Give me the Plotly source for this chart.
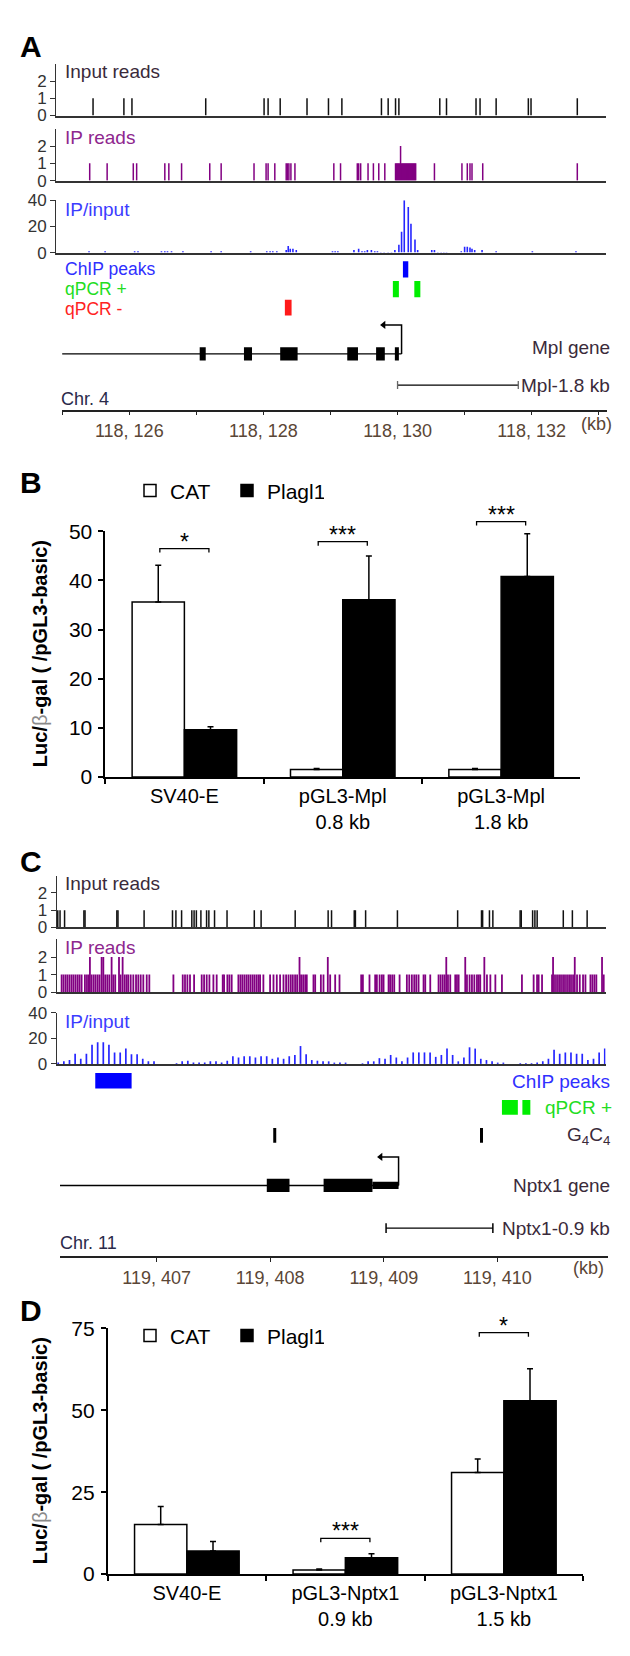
import plotly.graph_objects as go
from collections import Counter

W, H = 630, 1656
FONT = "Arial, Liberation Sans, sans-serif"

# ======================= DATA =======================
# ---- Panel A : Mpl locus, chr 4 (kb) ----
a_input_reads_kb = [118125.46, 118125.92, 118126.04, 118127.14, 118128.01, 118128.07,
                    118128.25, 118128.65, 118128.97, 118129.17, 118129.76, 118129.86,
                    118129.97, 118130.02, 118130.63, 118130.73, 118131.17, 118131.23,
                    118131.47, 118131.95, 118131.99, 118132.68]
# one entry per read (a repeated position = stacked reads)
a_ip_reads_kb = [118125.41, 118125.67, 118126.06, 118126.11, 118126.53, 118126.59, 118126.78,
                 118127.20, 118127.37, 118127.86, 118128.04, 118128.07, 118128.17, 118128.34,
                 118128.36, 118128.38, 118128.41, 118128.47, 118129.05, 118129.15, 118129.40,
                 118129.42, 118129.45, 118129.56, 118129.64, 118129.72, 118129.81,
                 118129.970, 118129.985, 118130.000, 118130.015, 118130.030, 118130.045,
                 118130.045, 118130.060, 118130.075, 118130.090, 118130.105, 118130.120,
                 118130.135, 118130.150, 118130.165, 118130.180, 118130.195, 118130.210,
                 118130.225, 118130.240, 118130.255, 118130.270,
                 118130.55, 118130.96, 118131.04, 118131.08, 118131.11, 118131.27, 118132.68]
a_ratio_kb = [118125.40, 118125.64, 118126.08, 118126.13, 118126.48, 118126.53, 118126.57,
              118126.63, 118126.80, 118127.22, 118127.37, 118127.81, 118128.05, 118128.10,
              118128.14, 118128.20, 118128.34, 118128.37, 118128.40, 118128.44, 118128.49,
              118129.03, 118129.07, 118129.11, 118129.35, 118129.42, 118129.47, 118129.51,
              118129.55, 118129.61, 118129.66, 118129.70, 118129.75, 118129.80, 118129.86,
              118129.91, 118129.96, 118130.02, 118130.06, 118130.10, 118130.16, 118130.20,
              118130.26, 118130.30, 118130.51, 118130.55, 118130.60, 118130.65, 118130.69,
              118130.73, 118130.95, 118131.00, 118131.04, 118131.08, 118131.11, 118131.15,
              118131.26, 118131.47, 118132.01, 118132.66]
a_ratio_val = [1, 1, 1, 1, 1, 1, 1,
               1, 1, 1, 1, 1, 1, 1,
               1, 1, 2, 5, 3, 3, 2,
               1, 1, 1, 2, 3, 1, 1,
               2, 2, 1, 1, 0.5, 0.5, 0.5,
               0.5, 2, 6, 16, 40, 35, 22,
               10, 2, 2, 2, 0.5, 0.5, 0.5,
               0.5, 1, 4.5, 4.5, 4, 3, 2,
               2, 1, 1, 1]
a_chip_peaks_kb = [(118130.08, 118130.16)]
a_qpcr_pos_kb = [(118129.93, 118130.02), (118130.25, 118130.34)]
a_qpcr_neg_kb = [(118128.32, 118128.42)]
a_gene_span_kb = (118124.97, 118130.06)
a_tss_kb = 118130.06
a_exons_kb = [(118127.05, 118127.14), (118127.71, 118127.83), (118128.25, 118128.51),
              (118129.25, 118129.41), (118129.68, 118129.81), (118129.96, 118130.02)]
a_promoter_kb = (118130.00, 118131.80)
a_tick_kb = [118126, 118128, 118130, 118132]
a_tick_text = ["118, 126", "118, 128", "118, 130", "118, 132"]
a_minor_tick_kb = [118125, 118127, 118129, 118131, 118133]

# ---- Panel B : luciferase, Mpl promoter ----
b_categories = ["SV40-E", "pGL3-Mpl<br>0.8 kb", "pGL3-Mpl<br>1.8 kb"]
b_cat = [35.6, 1.5, 1.5]
b_cat_err = [7.5, 0.2, 0.2]
b_plagl1 = [9.6, 36.1, 40.8]
b_plagl1_err = [0.6, 8.9, 8.7]
b_sig = ["*", "***", "***"]

# ---- Panel C : Nptx1 locus, chr 11 (kb) ----
c_input_reads_kb = [119406.13, 119406.15, 119406.19, 119406.36, 119406.37, 119406.65, 119406.66,
                    119406.89, 119407.14, 119407.17, 119407.22, 119407.31, 119407.33, 119407.35,
                    119407.39, 119407.44, 119407.46, 119407.51, 119407.62, 119407.86, 119407.92,
                    119408.22, 119408.51, 119408.54, 119408.74, 119408.75, 119408.84, 119409.12,
                    119409.65, 119409.86, 119409.87, 119409.93, 119409.96, 119410.20, 119410.21,
                    119410.31, 119410.33, 119410.35, 119410.58, 119410.66, 119410.79]
c_ip_reads_kb = [
    119406.164, 119406.181, 119406.199, 119406.216, 119406.234, 119406.252, 119406.269,
    119406.287, 119406.305, 119406.322, 119406.340, 119406.369, 119406.387, 119406.404,
    119406.413, 119406.413, 119406.428, 119406.446, 119406.463, 119406.481, 119406.498,
    119406.516, 119406.516, 119406.531, 119406.531, 119406.548, 119406.566, 119406.584,
    119406.604, 119406.604, 119406.619, 119406.636, 119406.669, 119406.669, 119406.683,
    119406.701, 119406.701, 119406.719, 119406.736, 119406.751, 119406.772, 119406.795,
    119406.819, 119406.839, 119406.860, 119406.883, 119406.913, 119406.936,
    119407.148, 119407.230, 119407.250, 119407.271, 119407.294, 119407.330, 119407.397,
    119407.418, 119407.441, 119407.465, 119407.500, 119407.529, 119407.582, 119407.594,
    119407.623, 119407.641, 119407.661, 119407.720, 119407.738, 119407.755, 119407.773,
    119407.791, 119407.808, 119407.826, 119407.844, 119407.861, 119407.879, 119407.896,
    119407.911, 119407.940, 119407.999,
    119408.029, 119408.058, 119408.087, 119408.117, 119408.140, 119408.161, 119408.181,
    119408.199, 119408.219, 119408.237, 119408.258, 119408.258, 119408.272, 119408.290,
    119408.308, 119408.322, 119408.381, 119408.396, 119408.446, 119408.469, 119408.507,
    119408.507, 119408.528, 119408.572, 119408.610, 119408.801, 119408.816, 119408.874,
    119408.924, 119408.939, 119408.963, 119408.983, 119408.998,
    119409.042, 119409.056, 119409.074, 119409.092, 119409.139, 119409.203, 119409.224,
    119409.247, 119409.268, 119409.286, 119409.306, 119409.350, 119409.365, 119409.409,
    119409.482, 119409.500, 119409.518, 119409.535, 119409.550, 119409.550, 119409.565,
    119409.585, 119409.629, 119409.644, 119409.659, 119409.717, 119409.717, 119409.732,
    119409.755, 119409.776, 119409.797, 119409.820, 119409.835, 119409.849, 119409.885,
    119409.885, 119409.908, 119409.938, 119409.982,
    119410.040, 119410.216, 119410.319, 119410.349, 119410.363, 119410.393, 119410.481,
    119410.490, 119410.490, 119410.507, 119410.525, 119410.543, 119410.560, 119410.578,
    119410.595, 119410.613, 119410.631, 119410.648, 119410.666, 119410.681, 119410.681,
    119410.701, 119410.725, 119410.754, 119410.775, 119410.819, 119410.836, 119410.854,
    119410.871, 119410.921, 119410.921, 119410.936]
# IP/input in consecutive ~50 bp bins
c_ratio_start_kb = 119406.134
c_ratio_bin_kb = 0.0496
c_ratio_val = [1, 2, 3, 8, 4, 8, 15, 17, 17, 15, 9, 9, 12, 7.5, 7.5, 4, 2, 2, 0, 0,
               0, 0.5, 2, 2.5, 1, 1, 1, 2, 2, 1, 2.5, 6, 5, 6, 6, 5, 6, 6, 4, 5,
               4, 6, 7, 14, 7.5, 3, 2.5, 2, 2, 1, 1, 1, 0, 0, 0.5, 2, 2, 4.5, 4, 7,
               5, 2, 5, 9, 9, 9, 9, 5.5, 7, 12, 7, 2, 5, 13, 12, 4, 3, 2, 1, 1,
               0, 0, 0.5, 0.5, 0.5, 1, 2, 4, 11, 8, 9, 9, 8, 8, 3, 4, 9, 12]
c_chip_peaks_kb = [(119406.46, 119406.78)]
c_qpcr_pos_kb = [(119410.04, 119410.18), (119410.22, 119410.29)]
c_g4c4_kb = [119408.04, 119409.86]
c_gene_span_kb = (119406.13, 119409.13)
c_tss_kb = 119409.13
c_exons_kb = [(119407.97, 119408.17), (119408.47, 119408.90)]
c_utr_kb = [(119408.90, 119409.13)]
c_promoter_kb = (119409.02, 119409.96)
c_tick_kb = [119407, 119408, 119409, 119410]
c_tick_text = ["119, 407", "119, 408", "119, 409", "119, 410"]

# ---- Panel D : luciferase, Nptx1 promoter ----
d_categories = ["SV40-E", "pGL3-Nptx1<br>0.9 kb", "pGL3-Nptx1<br>1.5 kb"]
d_cat = [15.1, 1.2, 31.0]
d_cat_err = [5.5, 0.3, 4.1]
d_plagl1 = [7.0, 5.0, 52.9]
d_plagl1_err = [2.9, 1.2, 9.8]
d_sig = ["", "***", "*"]

# ======================= LAYOUT CONSTANTS (px) =======================
def fx(px):
    return px / W


def fy(py):
    return 1 - py / H


def axname(n, k):
    return k + "axis" if n == 1 else f"{k}axis{n}"


def axref(n, k):
    return k if n == 1 else f"{k}{n}"


PURPLE = "#820082"
BLUE = "#2626ff"
DARKTXT = "#3a2a3a"
TICKTXT = "#5a4636"
LBL = 19

# genomic px mapping
A_REF_KB, A_REF_PX, A_PXPK = 118125.0, 62.2, 67.07
C_REF_KB, C_REF_PX, C_PXPK = 119407.0, 156.6, 113.6


def krange(refkb, refpx, pxpk, p0, p1):
    return [refkb + (p0 - refpx) / pxpk, refkb + (p1 - refpx) / pxpk]


A_TRK_X = (56.2, 605.5)
A_ANN_X = (62.2, 606.5)
A_TRK_Y = [(52.5, 105.0), (118.5, 171.0), (191.0, 244.0)]
A_ANN_Y = (248.0, 403.3)
C_TRK_X = (56.7, 605.5)
C_ANN_X = (60.0, 608.0)
C_TRK_Y = [(875.8, 928.3), (940.5, 994.0), (1015.0, 1066.7)]
C_ANN_Y = (1068.0, 1261.7)

B_X = (105.2, 580.3)
B_Y = (526.7, 775.7)
B_OV_TOP = 470.0
B_YMAX = 50
B_BRACKET_Y = [46.5, 47.9, 52.0]
D_X = (107.6, 583.1)
D_Y = (1335.0, 1584.0)
D_OV_TOP = 1290.0
D_YMAX = 75
D_BRACKET_Y = [0, 10.9, 73.7]
BR_HALF = 0.155
BR_LEG_PX = 4.0
ARROW_PX = 20

fig = go.Figure()
layout = {}
shapes = []
annots = []


def add_sticks(pos, heights, n, color, width):
    xs, ys = [], []
    for p, h in zip(pos, heights):
        xs += [p, p, None]
        ys += [0, h, None]
    fig.add_trace(go.Scatter(x=xs, y=ys, mode="lines", line=dict(color=color, width=width),
                             xaxis=axref(n, "x"), yaxis=axref(n, "y"),
                             showlegend=False, hoverinfo="skip"))


def add_reads(reads, n, color, width):
    cnt = Counter(reads)
    pos = sorted(cnt)
    add_sticks(pos, [cnt[p] for p in pos], n, color, width)


def track_axes(n, xpx, ypx, xr, yr, yticks):
    layout[axname(n, "x")] = dict(domain=[fx(xpx[0]), fx(xpx[1])], range=xr, anchor=axref(n, "y"),
                                  showline=True, linecolor="#333", linewidth=1.8, ticks="",
                                  showticklabels=False, showgrid=False, zeroline=False)
    layout[axname(n, "y")] = dict(domain=[fy(ypx[1]), fy(ypx[0])], range=yr, anchor=axref(n, "x"),
                                  showline=True, linecolor="#333", linewidth=1.3, ticks="outside",
                                  ticklen=5, tickwidth=1.3, tickcolor="#333", tickvals=yticks,
                                  tickfont=dict(size=17, color="#333"), showgrid=False,
                                  zeroline=False)


def ann_axes(n, xpx, ypx, xr, tv, tt, minor_tv=None):
    d = dict(domain=[fx(xpx[0]), fx(xpx[1])], range=xr, anchor=axref(n, "y"),
             showline=True, linecolor="#222", linewidth=1.5, ticks="outside",
             ticklen=4, tickwidth=1.3, tickcolor="#222", tickvals=tv,
             ticktext=tt, tickfont=dict(size=18, color=TICKTXT),
             showgrid=False, zeroline=False)
    if minor_tv:
        d["minor"] = dict(tickvals=minor_tv, ticks="outside", ticklen=4, tickwidth=1.3,
                          tickcolor="#222", showgrid=False)
    layout[axname(n, "x")] = d
    layout[axname(n, "y")] = dict(domain=[fy(ypx[1]), fy(ypx[0])], range=[0, ypx[1] - ypx[0]],
                                  anchor=axref(n, "x"), visible=False)


def rect(n, x0, x1, y0, y1, color):
    shapes.append(dict(type="rect", xref=axref(n, "x"), yref=axref(n, "y"), x0=x0, x1=x1,
                       y0=y0, y1=y1, fillcolor=color, line=dict(width=0), layer="above"))


def seg(n, x0, y0, x1, y1, color="black", width=1.4):
    shapes.append(dict(type="line", xref=axref(n, "x"), yref=axref(n, "y"), x0=x0, y0=y0,
                       x1=x1, y1=y1, line=dict(color=color, width=width), layer="above"))


def tss_arrow(n, tss, y_gene, y_arrow, pxpk):
    head = tss - ARROW_PX / pxpk
    fig.add_trace(go.Scatter(x=[tss, tss, head + 3 / pxpk], y=[y_gene, y_arrow, y_arrow],
                             mode="lines", line=dict(color="black", width=1.5),
                             xaxis=axref(n, "x"), yaxis=axref(n, "y"), showlegend=False,
                             hoverinfo="skip"))
    fig.add_trace(go.Scatter(x=[head + 2 / pxpk], y=[y_arrow], mode="markers",
                             marker=dict(symbol="triangle-left", size=7, color="black"),
                             xaxis=axref(n, "x"), yaxis=axref(n, "y"), showlegend=False,
                             hoverinfo="skip", cliponaxis=False))


def text(x, y, s, size=LBL, color="black", xanchor="left", yanchor="middle", **kw):
    annots.append(dict(x=x, y=y, xref="paper", yref="paper", text=s, showarrow=False,
                       xanchor=xanchor, yanchor=yanchor, borderpad=0,
                       font=dict(size=size, color=color, family=FONT), **kw))


# ======================= PANEL A =======================
a_trk_range = krange(A_REF_KB, A_REF_PX, A_PXPK, *A_TRK_X)
a_ann_range = krange(A_REF_KB, A_REF_PX, A_PXPK, *A_ANN_X)
track_axes(1, A_TRK_X, A_TRK_Y[0], a_trk_range, [0, 3], [0, 1, 2])
track_axes(2, A_TRK_X, A_TRK_Y[1], a_trk_range, [0, 3], [0, 1, 2])
track_axes(3, A_TRK_X, A_TRK_Y[2], a_trk_range, [0, 40], [0, 20, 40])
ann_axes(4, A_ANN_X, A_ANN_Y, a_ann_range, a_tick_kb, a_tick_text, a_minor_tick_kb)
add_reads(a_input_reads_kb, 1, "#111", 1.5)
add_reads(a_ip_reads_kb, 2, PURPLE, 1.5)
add_sticks(a_ratio_kb, a_ratio_val, 3, BLUE, 1.6)


def ya(py):
    return A_ANN_Y[1] - py


for s0, s1 in a_chip_peaks_kb:
    rect(4, s0, s1, ya(269.3), ya(252.7), "#0000ff")
for s0, s1 in a_qpcr_pos_kb:
    rect(4, s0, s1, ya(289.3), ya(272.7), "#00ee00")
for s0, s1 in a_qpcr_neg_kb:
    rect(4, s0, s1, ya(307.7), ya(291.7), "#ff1a1a")
seg(4, a_gene_span_kb[0], ya(346.7), a_gene_span_kb[1], ya(346.7), width=1.4)
for e0, e1 in a_exons_kb:
    rect(4, e0, e1, ya(353.4), ya(340.0), "black")
tss_arrow(4, a_tss_kb, ya(346.7), ya(317.3), A_PXPK)
seg(4, a_promoter_kb[0], ya(378.3), a_promoter_kb[1], ya(378.3), width=1.3)
for p in a_promoter_kb:
    seg(4, p, ya(382.3), p, ya(374.3), color="#666", width=1.3)

text(fx(31), fy(35), "<b>A</b>", size=30, xanchor="center")
text(fx(64), fy(60), "Input reads", color=DARKTXT)
text(fx(64), fy(127), "IP reads", color="#8e268e")
text(fx(64), fy(200), "IP/input", color="#3c3cff")
text(fx(64), fy(260.5), "ChIP peaks", size=17.5, color="#3030ff")
text(fx(64), fy(281), "qPCR +", size=17.5, color="#22dd22")
text(fx(64), fy(301), "qPCR -", size=17.5, color="#ff2222")
text(fx(611), fy(340), "Mpl gene", color=DARKTXT, xanchor="right")
text(fx(611), fy(378.3), "Mpl-1.8 kb", color=DARKTXT, xanchor="right")
text(fx(60), fy(392.7), "Chr. 4", size=18, color="#2a2a4a")
text(fx(613), fy(417.3), "(kb)", size=18, color=TICKTXT, xanchor="right")

# ======================= BAR PANELS =======================


def bar_panel(n, xpx, ypx, ymax, ytv, ovtop, cats, cat, cat_err, pl, pl_err, sig, bry, leg,
              legy):
    layout[axname(n, "x")] = dict(domain=[fx(xpx[0]), fx(xpx[1])], anchor=axref(n, "y"),
                                  type="category", range=[-0.5, len(cats) - 0.5], showline=True,
                                  linecolor="black", linewidth=1.5, ticks="outside",
                                  tickson="boundaries", ticklen=5, tickwidth=1.5,
                                  tickcolor="black", tickfont=dict(size=20, color="black"),
                                  showgrid=False)
    layout[axname(n, "y")] = dict(domain=[fy(ypx[1]), fy(ypx[0])], range=[0, ymax],
                                  anchor=axref(n, "x"), showline=True, linecolor="black",
                                  linewidth=1.5, ticks="outside", ticklen=5, tickwidth=1.5,
                                  tickcolor="black", tickvals=ytv, ticklabelstandoff=2,
                                  tickfont=dict(size=21, color="black"), showgrid=False,
                                  zeroline=False)
    m = n + 1
    pxpu = (ypx[1] - ypx[0]) / ymax
    ovmax = (ypx[1] - ovtop) / pxpu
    layout[axname(m, "x")] = dict(domain=[fx(xpx[0]), fx(xpx[1])], range=[-0.5, len(cats) - 0.5],
                                  anchor=axref(m, "y"), visible=False)
    layout[axname(m, "y")] = dict(domain=[fy(ypx[1]), fy(ovtop)], range=[0, ovmax],
                                  anchor=axref(m, "x"), visible=False)
    zeros = [0 for _ in cats]
    fig.add_trace(go.Bar(x=cats, y=cat, name="CAT", xaxis=axref(n, "x"), yaxis=axref(n, "y"),
                         legend=leg, marker=dict(color="white", line=dict(color="black", width=1.5)),
                         error_y=dict(type="data", array=cat_err, arrayminus=zeros, symmetric=False,
                                      color="black", thickness=1.5, width=3),
                         hoverinfo="skip"))
    fig.add_trace(go.Bar(x=cats, y=pl, name="Plagl1", xaxis=axref(n, "x"), yaxis=axref(n, "y"),
                         legend=leg, marker=dict(color="black", line=dict(color="black", width=1.5)),
                         error_y=dict(type="data", array=pl_err, arrayminus=zeros, symmetric=False,
                                      color="black", thickness=1.5, width=3),
                         hoverinfo="skip"))
    leg_u = BR_LEG_PX / pxpu
    for i, (s, yb) in enumerate(zip(sig, bry)):
        if not s:
            continue
        fig.add_trace(go.Scatter(x=[i - BR_HALF, i - BR_HALF, i + BR_HALF, i + BR_HALF],
                                 y=[yb - leg_u, yb, yb, yb - leg_u], mode="lines",
                                 line=dict(color="black", width=1.3), xaxis=axref(m, "x"),
                                 yaxis=axref(m, "y"), showlegend=False, hoverinfo="skip"))
        annots.append(dict(x=i, y=yb, xref=axref(m, "x"), yref=axref(m, "y"), text=s,
                           showarrow=False, xanchor="center", yanchor="bottom", yshift=-8,
                           font=dict(size=23, color="black", family=FONT)))
    layout[leg] = dict(orientation="h", x=fx(130), y=fy(legy), xanchor="left", yanchor="middle",
                       font=dict(size=21, color="black", family=FONT), bgcolor="rgba(0,0,0,0)",
                       entrywidth=52, tracegroupgap=0)
    cy = (ypx[0] + ypx[1]) / 2
    annots.append(dict(x=fx(40), y=fy(cy), xref="paper", yref="paper", textangle=-90,
                       text="<b>Luc/</b><span style='color:#8a8a8a'>β</span><b>-gal ( /pGL3-basic)</b>",
                       showarrow=False, xanchor="center", yanchor="middle",
                       font=dict(size=20, color="black", family=FONT)))


bar_panel(5, B_X, B_Y, B_YMAX, [0, 10, 20, 30, 40, 50], B_OV_TOP, b_categories, b_cat, b_cat_err,
          b_plagl1, b_plagl1_err, b_sig, B_BRACKET_Y, "legend", 485.5)
text(fx(31), fy(477), "<b>B</b>", size=30, xanchor="center")

# ======================= PANEL C =======================
c_trk_range = krange(C_REF_KB, C_REF_PX, C_PXPK, *C_TRK_X)
c_ann_range = krange(C_REF_KB, C_REF_PX, C_PXPK, *C_ANN_X)
track_axes(7, C_TRK_X, C_TRK_Y[0], c_trk_range, [0, 3], [0, 1, 2])
track_axes(8, C_TRK_X, C_TRK_Y[1], c_trk_range, [0, 3], [0, 1, 2])
track_axes(9, C_TRK_X, C_TRK_Y[2], c_trk_range, [0, 40], [0, 20, 40])
ann_axes(10, C_ANN_X, C_ANN_Y, c_ann_range, c_tick_kb, c_tick_text)
add_reads(c_input_reads_kb, 7, "#111", 1.5)
add_reads(c_ip_reads_kb, 8, PURPLE, 1.8)
c_ratio_kb = [c_ratio_start_kb + i * c_ratio_bin_kb for i in range(len(c_ratio_val))]
add_sticks(c_ratio_kb, c_ratio_val, 9, BLUE, 1.7)


def yc(py):
    return C_ANN_Y[1] - py


for s0, s1 in c_chip_peaks_kb:
    rect(10, s0, s1, yc(1091.7), yc(1076.0), "#0000ff")
for s0, s1 in c_qpcr_pos_kb:
    rect(10, s0, s1, yc(1118.3), yc(1103.3), "#00ee00")
for g in c_g4c4_kb:
    seg(10, g, yc(1146.7), g, yc(1131.7), width=3)
seg(10, c_gene_span_kb[0], yc(1190), c_gene_span_kb[1], yc(1190), width=1.4)
seg(10, c_gene_span_kb[0], yc(1195.5), c_gene_span_kb[0], yc(1184.5), width=2)
for e0, e1 in c_exons_kb:
    rect(10, e0, e1, yc(1196.7), yc(1183.3), "black")
for e0, e1 in c_utr_kb:
    rect(10, e0, e1, yc(1193.7), yc(1186.3), "black")
tss_arrow(10, c_tss_kb, yc(1190), yc(1161), C_PXPK)
seg(10, c_promoter_kb[0], yc(1233.3), c_promoter_kb[1], yc(1233.3), width=1.3)
for p in c_promoter_kb:
    seg(10, p, yc(1238.3), p, yc(1228.3), width=1.5)

text(fx(31), fy(861), "<b>C</b>", size=30, xanchor="center")
text(fx(64), fy(883.3), "Input reads", color=DARKTXT)
text(fx(64), fy(948.3), "IP reads", color="#8e268e")
text(fx(64), fy(1024), "IP/input", color="#3c3cff")
text(fx(611), fy(1085), "ChIP peaks", color="#3030ff", xanchor="right")
text(fx(613), fy(1111), "qPCR +", color="#22dd22", xanchor="right")
text(fx(611), fy(1140), "G<sub>4</sub>C<sub>4</sub>", color=DARKTXT, xanchor="right")
text(fx(611), fy(1190), "Nptx1 gene", color=DARKTXT, xanchor="right")
text(fx(611), fy(1233.3), "Nptx1-0.9 kb", color=DARKTXT, xanchor="right")
text(fx(59), fy(1248.3), "Chr. 11", size=18, color="#2a2a4a")
text(fx(605), fy(1273.5), "(kb)", size=18, color=TICKTXT, xanchor="right")

# ======================= PANEL D =======================
bar_panel(11, D_X, D_Y, D_YMAX, [0, 25, 50, 75], D_OV_TOP, d_categories, d_cat, d_cat_err,
          d_plagl1, d_plagl1_err, d_sig, D_BRACKET_Y, "legend2", 1342.5)
text(fx(31), fy(1317), "<b>D</b>", size=30, xanchor="center")

fig.update_layout(**layout)
fig.update_layout(width=W, height=H, margin=dict(l=0, r=0, t=0, b=0),
                  paper_bgcolor="white", plot_bgcolor="rgba(0,0,0,0)",
                  font=dict(family=FONT, color="black"), barmode="group", bargap=0.34,
                  bargroupgap=0, showlegend=True, shapes=shapes, annotations=annots,
                  hovermode=False)
fig.write_html("out.html", config={"displayModeBar": False},
               post_script="document.body.style.margin='0';"
                           "document.body.style.overflow='hidden';")
